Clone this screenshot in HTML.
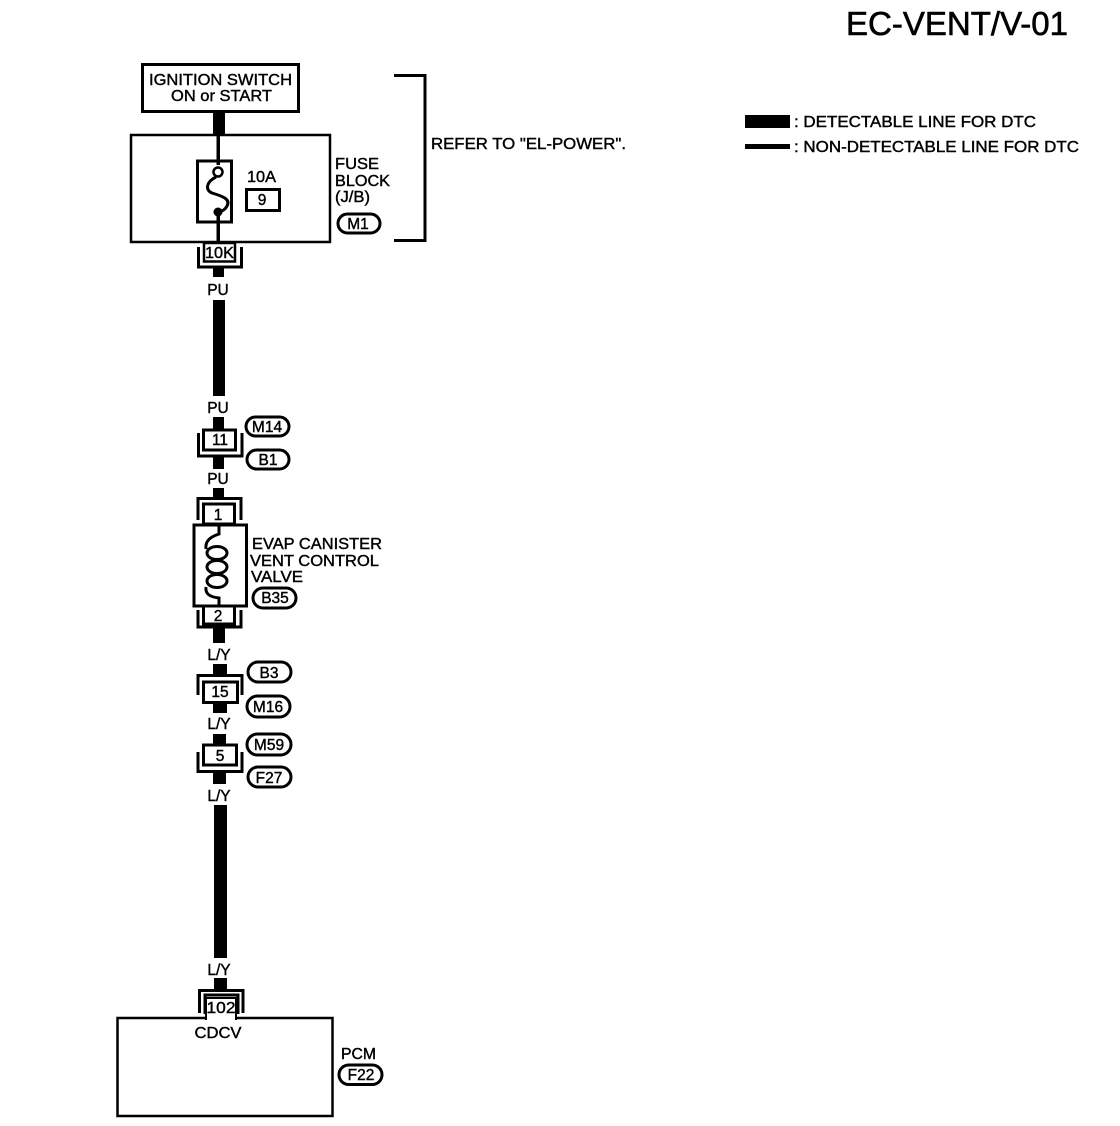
<!DOCTYPE html>
<html><head><meta charset="utf-8"><style>
html,body{margin:0;padding:0;background:#fff}
svg{display:block}
text{font-family:"Liberation Sans",sans-serif;font-size:15.5px;fill:#000;stroke:#000;stroke-width:.4}
.m{text-anchor:middle}
.l{fill:none;stroke:#000;stroke-width:3}
</style></head><body>
<svg width="1120" height="1126" viewBox="0 0 1120 1126" xmlns="http://www.w3.org/2000/svg">
<rect width="1120" height="1126" fill="#fff"/>
<text x="846" y="35" style="font-size:33px;stroke-width:.6" textLength="222" lengthAdjust="spacingAndGlyphs">EC-VENT/V-01</text>

<!-- legend -->
<rect x="745" y="115" width="45" height="13"/>
<rect x="745" y="144" width="45" height="5"/>
<text x="794" y="127" textLength="242" lengthAdjust="spacingAndGlyphs">: DETECTABLE LINE FOR DTC</text>
<text x="794" y="152" textLength="285" lengthAdjust="spacingAndGlyphs">: NON-DETECTABLE LINE FOR DTC</text>

<!-- ignition -->
<rect x="142.500" y="64.500" width="156" height="47" fill="none" stroke="#000" stroke-width="3"/>
<text x="149" y="85" textLength="143" lengthAdjust="spacingAndGlyphs">IGNITION SWITCH</text>
<text x="171" y="101" textLength="101" lengthAdjust="spacingAndGlyphs">ON or START</text>
<rect x="213" y="113" width="12" height="22"/>

<!-- fuse block -->
<rect x="131" y="135" width="199" height="107" fill="none" stroke="#000" stroke-width="2.500"/>
<rect x="216.500" y="135" width="3.500" height="30"/>
<rect x="197.500" y="161" width="34" height="61" class="l" fill="#fff"/>
<rect x="216.500" y="214" width="3.500" height="29"/>
<path d="M216 177 C206 182 205 190 212 193 C222 196 231 199 227 206 C225 210 222 211 219 212" fill="none" stroke="#000" stroke-width="3"/>
<circle cx="218" cy="172" r="4.500" fill="#fff" stroke="#000" stroke-width="2.500"/>
<circle cx="218" cy="212" r="4.500"/>
<text x="247" y="182" textLength="29" lengthAdjust="spacingAndGlyphs">10A</text>
<rect x="246.500" y="189.500" width="33" height="21" class="l"/>
<text x="262" y="205" class="m">9</text>
<text x="335" y="169" textLength="44" lengthAdjust="spacingAndGlyphs">FUSE</text>
<text x="335" y="186" textLength="55" lengthAdjust="spacingAndGlyphs">BLOCK</text>
<text x="335" y="202" textLength="35" lengthAdjust="spacingAndGlyphs">(J/B)</text>
<rect x="338" y="214" width="42" height="19" rx="9.500" class="l"/>
<text x="358" y="229" class="m">M1</text>
<path d="M394 75.500H425V240.500H394" fill="none" stroke="#000" stroke-width="3"/>
<text x="431" y="149" textLength="195" lengthAdjust="spacingAndGlyphs">REFER TO "EL-POWER".</text>

<!-- 10K -->
<path d="M198.500 247V267H241.500V247" class="l"/>
<rect x="204" y="243" width="31" height="18.500" fill="#fff" stroke="#000" stroke-width="2.500"/>
<text x="219.500" y="258" class="m" textLength="29" lengthAdjust="spacingAndGlyphs">10K</text>
<rect x="213" y="268" width="11" height="9"/>
<text x="218" y="295" class="m">PU</text>
<rect x="213" y="300" width="12" height="96"/>
<text x="218" y="413" class="m">PU</text>

<!-- 11 -->
<rect x="213" y="417" width="11" height="13"/>
<path d="M198.500 433V456H242V433" class="l"/>
<rect x="203.500" y="430" width="32" height="20" class="l" fill="#fff"/>
<text x="220" y="445" class="m">11</text>
<rect x="213" y="457" width="11" height="12"/>
<rect x="246" y="417" width="43" height="19" rx="9.500" class="l"/>
<text x="267" y="432" class="m">M14</text>
<rect x="247" y="450" width="42" height="19" rx="9.500" class="l"/>
<text x="268" y="465" class="m">B1</text>
<text x="218" y="484" class="m">PU</text>

<!-- valve -->
<rect x="213" y="488" width="11" height="10"/>
<path d="M198 520V498.500H241V520" class="l"/>
<rect x="203.500" y="504" width="31" height="20" class="l" fill="#fff"/>
<text x="218" y="520" class="m">1</text>
<rect x="194" y="525" width="52.500" height="81" class="l" fill="#fff"/>
<path d="M219 526V534C210 537 205 541 206 549" class="l"/>
<path d="M219 606V598C210 597 205 594 206 587" class="l"/>
<ellipse cx="217" cy="553" rx="10" ry="6.500" class="l"/>
<ellipse cx="217" cy="567" rx="10" ry="6.500" class="l"/>
<ellipse cx="217" cy="581" rx="10" ry="6.500" class="l"/>
<text x="252" y="549" textLength="130" lengthAdjust="spacingAndGlyphs">EVAP CANISTER</text>
<text x="250" y="566" textLength="129" lengthAdjust="spacingAndGlyphs">VENT CONTROL</text>
<text x="251" y="582" textLength="52" lengthAdjust="spacingAndGlyphs">VALVE</text>
<rect x="253" y="588" width="43" height="20" rx="10" class="l"/>
<text x="275" y="603" class="m">B35</text>
<path d="M198 610V627H241V610" class="l"/>
<rect x="203.500" y="606" width="31" height="18" class="l" fill="#fff"/>
<text x="218" y="621" class="m">2</text>
<rect x="213" y="628" width="12" height="15"/>
<text x="219" y="660" class="m">L/Y</text>

<!-- 15 -->
<rect x="213" y="664" width="14" height="11"/>
<path d="M198 695V675.500H242V695" class="l"/>
<rect x="203.500" y="682" width="34" height="20.500" class="l" fill="#fff"/>
<text x="220" y="697" class="m">15</text>
<rect x="213" y="703" width="14" height="10"/>
<rect x="248" y="662" width="43" height="20" rx="10" class="l"/>
<text x="269" y="678" class="m">B3</text>
<rect x="247" y="696" width="43" height="21" rx="10.500" class="l"/>
<text x="268" y="712" class="m">M16</text>
<text x="219" y="729" class="m">L/Y</text>

<!-- 5 -->
<rect x="213" y="734" width="13" height="11"/>
<path d="M198 752V771.500H242V752" class="l"/>
<rect x="203.500" y="745" width="33" height="20" class="l" fill="#fff"/>
<text x="220" y="761" class="m">5</text>
<rect x="213" y="773" width="13" height="11"/>
<rect x="247" y="734" width="44" height="21" rx="10.500" class="l"/>
<text x="269" y="750" class="m">M59</text>
<rect x="248" y="767" width="43" height="20" rx="10" class="l"/>
<text x="269" y="783" class="m">F27</text>
<text x="219" y="801" class="m">L/Y</text>
<rect x="214" y="805" width="13" height="153"/>
<text x="219" y="975" class="m">L/Y</text>

<!-- 102 / PCM -->
<rect x="214" y="978" width="13" height="12"/>
<path d="M199.500 1013V990.500H243V1013" fill="none" stroke="#000" stroke-width="3"/>
<path d="M205 1014V995H238V1014" class="l"/>
<rect x="117.500" y="1018" width="215" height="98" fill="#fff" stroke="#000" stroke-width="2.500"/>
<rect x="206" y="998" width="30" height="21" fill="#fff" stroke="#000" stroke-width="2"/>
<rect x="207" y="1016" width="28" height="4" fill="#fff"/>
<text x="221" y="1013" class="m" textLength="29" lengthAdjust="spacingAndGlyphs">102</text>
<text x="218" y="1038" class="m" textLength="47" lengthAdjust="spacingAndGlyphs">CDCV</text>
<text x="341" y="1059" textLength="35" lengthAdjust="spacingAndGlyphs">PCM</text>
<rect x="339" y="1065" width="43" height="19.500" rx="9.700" class="l"/>
<text x="361" y="1080" class="m">F22</text>
</svg>
</body></html>
